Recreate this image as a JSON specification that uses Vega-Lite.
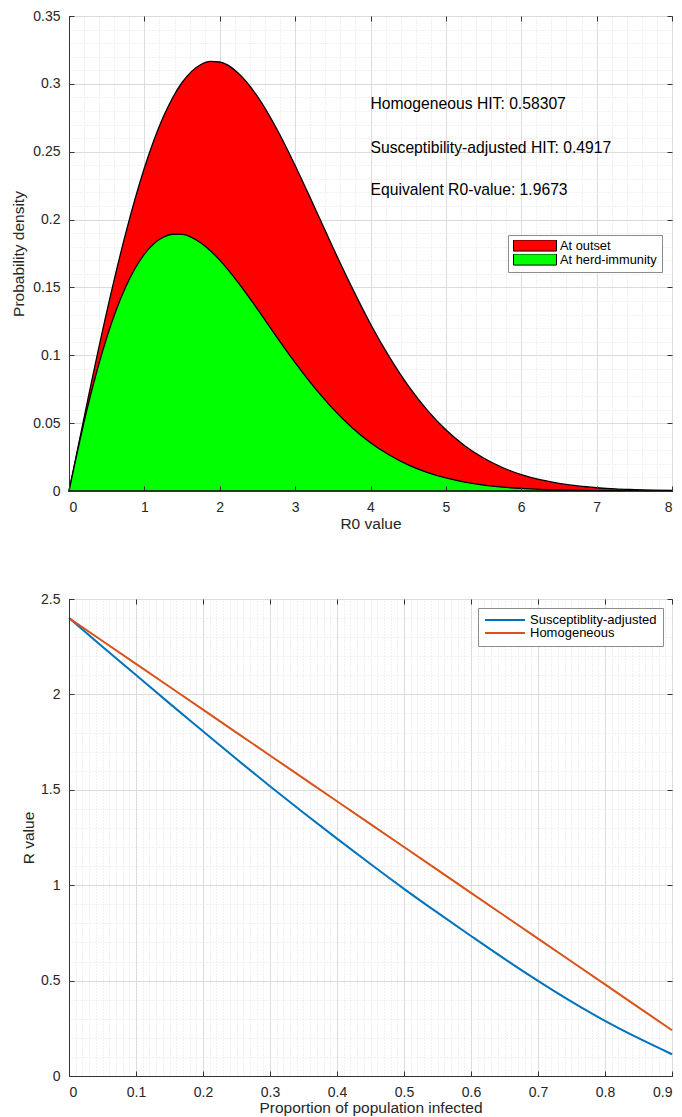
{
  "$schema": "https://vega.github.io/schema/vega-lite/v6.json",
  "background": "white",
  "padding": {"left": 11, "top": 8, "right": 0, "bottom": 0},
  "spacing": 59,
  "resolve": {"scale": {"color": "independent"}, "legend": {"color": "independent"}},
  "config": {
    "font": "Liberation Sans",
    "view": {"stroke": "#333333", "strokeWidth": 1},
    "axis": {
      "labelFont": "Liberation Sans", "titleFont": "Liberation Sans",
      "labelFontSize": 14, "titleFontSize": 15.5, "titleFontWeight": "normal",
      "labelColor": "#262626", "titleColor": "#262626",
      "domainColor": "#333333", "tickColor": "#333333", "gridColor": "#dcdcdc", "gridWidth": 1
    }
  },
  "vconcat": [
    {
      "width": 603, "height": 475,
      "data": {"values": [
        {"x": 0, "outset": 0, "herd": 0},
        {"x": 0.25, "outset": 0.0676, "herd": 0.0626},
        {"x": 0.5, "outset": 0.1318, "herd": 0.1129},
        {"x": 0.75, "outset": 0.1894, "herd": 0.1501},
        {"x": 1, "outset": 0.2380, "herd": 0.1745},
        {"x": 1.25, "outset": 0.2755, "herd": 0.1870},
        {"x": 1.375, "outset": 0.2898, "herd": 0.1892},
        {"x": 1.5, "outset": 0.3010, "herd": 0.1891},
        {"x": 1.75, "outset": 0.3143, "herd": 0.1827},
        {"x": 1.875, "outset": 0.3166, "herd": 0.1771},
        {"x": 2, "outset": 0.3161, "herd": 0.1701},
        {"x": 2.25, "outset": 0.3077, "herd": 0.1532},
        {"x": 2.5, "outset": 0.2908, "herd": 0.1340},
        {"x": 2.75, "outset": 0.2675, "herd": 0.1140},
        {"x": 3, "outset": 0.2399, "herd": 0.0946},
        {"x": 3.25, "outset": 0.2100, "herd": 0.0767},
        {"x": 3.5, "outset": 0.1796, "herd": 0.0607},
        {"x": 3.75, "outset": 0.1504, "herd": 0.0470},
        {"x": 4, "outset": 0.1231, "herd": 0.0356},
        {"x": 4.25, "outset": 0.0988, "herd": 0.0265},
        {"x": 4.5, "outset": 0.0776, "herd": 0.0192},
        {"x": 4.75, "outset": 0.0598, "herd": 0.0137},
        {"x": 5, "outset": 0.0451, "herd": 0.0096},
        {"x": 5.25, "outset": 0.0334, "herd": 0.0066},
        {"x": 5.5, "outset": 0.0243, "herd": 0.0044},
        {"x": 5.75, "outset": 0.0173, "herd": 0.0029},
        {"x": 6, "outset": 0.0121, "herd": 0.0019},
        {"x": 6.25, "outset": 0.0083, "herd": 0.0012},
        {"x": 6.5, "outset": 0.0056, "herd": 0.0008},
        {"x": 6.75, "outset": 0.0037, "herd": 0.0005},
        {"x": 7, "outset": 0.0024, "herd": 0.0003},
        {"x": 7.25, "outset": 0.0015, "herd": 0.0002},
        {"x": 7.5, "outset": 0.0010, "herd": 0.0001},
        {"x": 7.75, "outset": 0.0006, "herd": 0.0001},
        {"x": 8, "outset": 0.0004, "herd": 0.0000}
      ]},
      "resolve": {"axis": {"x": "independent", "y": "independent"}},
      "layer": [
        {
          "mark": {"type": "area", "interpolate": "monotone", "stroke": "black", "strokeWidth": 1.3, "opacity": 1},
          "encoding": {
            "x": {"field": "x", "type": "quantitative", "scale": {"domain": [0, 8], "nice": false},
              "axis": {"values": [0,1,2,3,4,5,6,7,8], "format": "d", "grid": false, "zindex": 1, "tickSize": -5, "labelPadding": 14, "title": "R0 value", "titlePadding": 2}},
            "y": {"field": "outset", "type": "quantitative", "scale": {"domain": [0, 0.35], "nice": false},
              "axis": {"values": [0,0.05,0.1,0.15,0.2,0.25,0.3,0.35], "format": ".2~f", "grid": false, "zindex": 1, "tickSize": -5, "labelPadding": 14, "title": "Probability density", "titlePadding": 6}},
            "color": {"datum": "At outset", "type": "nominal",
              "scale": {"domain": ["At outset", "At herd-immunity"], "range": ["#ff0000", "#00ff00"]},
              "legend": {"title": null, "orient": "none", "legendX": 439, "legendY": 219,
                "symbolType": "M-1,-0.26H1V0.26H-1Z", "symbolSize": 1849, "symbolStrokeColor": "black", "symbolStrokeWidth": 1, "symbolOpacity": 1,
                "clipHeight": 11,
                "labelFontSize": 12.8, "labelFont": "Liberation Sans", "labelColor": "#000000",
                "strokeColor": "#8c8c8c", "fillColor": "white", "padding": 5, "rowPadding": 0, "labelOffset": 3}}
          }
        },
        {
          "mark": {"type": "area", "interpolate": "monotone", "stroke": "black", "strokeWidth": 1.3, "opacity": 1},
          "encoding": {
            "x": {"field": "x", "type": "quantitative",
              "axis": {"orient": "top", "values": [0,1,2,3,4,5,6,7,8], "grid": true, "labels": false, "domain": false, "ticks": true, "tickSize": -5, "title": null, "zindex": 0}},
            "y": {"field": "herd", "type": "quantitative",
              "axis": {"orient": "right", "values": [0,0.05,0.1,0.15,0.2,0.25,0.3,0.35], "grid": true, "labels": false, "domain": false, "ticks": true, "tickSize": -5, "title": null, "zindex": 0}},
            "color": {"datum": "At herd-immunity", "type": "nominal"}
          }
        },
        {
          "data": {"values": [
            {"x": 4.0, "y": 0.285, "label": "Homogeneous HIT: 0.58307"},
            {"x": 4.0, "y": 0.253, "label": "Susceptibility-adjusted HIT: 0.4917"},
            {"x": 4.0, "y": 0.222, "label": "Equivalent R0-value: 1.9673"}
          ]},
          "mark": {"type": "text", "align": "left", "baseline": "middle", "fontSize": 15.7, "font": "Liberation Sans", "color": "#000000"},
          "encoding": {
            "x": {"field": "x", "type": "quantitative",
              "axis": {"orient": "top", "values": [0.2,0.4,0.6,0.8,1.2,1.4,1.6,1.8,2.2,2.4,2.6,2.8,3.2,3.4,3.6,3.8,4.2,4.4,4.6,4.8,5.2,5.4,5.6,5.8,6.2,6.4,6.6,6.8,7.2,7.4,7.6,7.8], "grid": true, "gridColor": "#e2e2e2", "gridDash": [1, 2], "labels": false, "domain": false, "ticks": false, "title": null, "zindex": 0}},
            "y": {"field": "y", "type": "quantitative",
              "axis": {"orient": "right", "values": [0.01,0.02,0.03,0.04,0.06,0.07,0.08,0.09,0.11,0.12,0.13,0.14,0.16,0.17,0.18,0.19,0.21,0.22,0.23,0.24,0.26,0.27,0.28,0.29,0.31,0.32,0.33,0.34], "grid": true, "gridColor": "#e2e2e2", "gridDash": [1, 2], "labels": false, "domain": false, "ticks": false, "title": null, "zindex": 0}},
            "text": {"field": "label"}
          }
        }
      ]
    },
    {
      "width": 603, "height": 477,
      "data": {"values": [
        {"p": 0, "adjusted": 2.400, "homogeneous": 2.40},
        {"p": 0.05, "adjusted": 2.250, "homogeneous": 2.28},
        {"p": 0.1, "adjusted": 2.102, "homogeneous": 2.16},
        {"p": 0.15, "adjusted": 1.953, "homogeneous": 2.04},
        {"p": 0.2, "adjusted": 1.807, "homogeneous": 1.92},
        {"p": 0.25, "adjusted": 1.661, "homogeneous": 1.80},
        {"p": 0.3, "adjusted": 1.519, "homogeneous": 1.68},
        {"p": 0.35, "adjusted": 1.380, "homogeneous": 1.56},
        {"p": 0.4, "adjusted": 1.244, "homogeneous": 1.44},
        {"p": 0.45, "adjusted": 1.111, "homogeneous": 1.32},
        {"p": 0.5, "adjusted": 0.981, "homogeneous": 1.20},
        {"p": 0.55, "adjusted": 0.856, "homogeneous": 1.08},
        {"p": 0.6, "adjusted": 0.734, "homogeneous": 0.96},
        {"p": 0.65, "adjusted": 0.614, "homogeneous": 0.84},
        {"p": 0.7, "adjusted": 0.499, "homogeneous": 0.72},
        {"p": 0.75, "adjusted": 0.390, "homogeneous": 0.60},
        {"p": 0.8, "adjusted": 0.289, "homogeneous": 0.48},
        {"p": 0.85, "adjusted": 0.198, "homogeneous": 0.36},
        {"p": 0.9, "adjusted": 0.114, "homogeneous": 0.24}
      ]},
      "resolve": {"axis": {"x": "independent", "y": "independent"}},
      "layer": [
        {
          "mark": {"type": "line", "interpolate": "monotone", "strokeWidth": 2},
          "encoding": {
            "x": {"field": "p", "type": "quantitative", "scale": {"domain": [0, 0.9], "nice": false},
              "axis": {"values": [0,0.1,0.2,0.3,0.4,0.5,0.6,0.7,0.8,0.9], "format": ".1~f", "grid": false, "zindex": 1, "tickSize": -5, "labelPadding": 14, "title": "Proportion of population infected", "titlePadding": 1}},
            "y": {"field": "adjusted", "type": "quantitative", "scale": {"domain": [0, 2.5], "nice": false},
              "axis": {"values": [0,0.5,1,1.5,2,2.5], "format": ".1~f", "grid": false, "zindex": 1, "tickSize": -5, "labelPadding": 14, "title": "R value", "titlePadding": 4}},
            "color": {"datum": "Susceptiblity-adjusted", "type": "nominal",
              "scale": {"domain": ["Susceptiblity-adjusted", "Homogeneous"], "range": ["#0072BD", "#D95319"]},
              "legend": {"title": null, "orient": "none", "legendX": 409, "legendY": 9,
                "symbolType": "stroke", "symbolSize": 1600, "symbolStrokeWidth": 2, "clipHeight": 12,
                "labelFontSize": 13, "labelFont": "Liberation Sans", "labelColor": "#000000",
                "strokeColor": "#8c8c8c", "fillColor": "white", "padding": 6, "rowPadding": 0, "labelOffset": 4}}
          }
        },
        {
          "mark": {"type": "line", "interpolate": "linear", "strokeWidth": 2},
          "encoding": {
            "x": {"field": "p", "type": "quantitative",
              "axis": {"orient": "top", "values": [0,0.1,0.2,0.3,0.4,0.5,0.6,0.7,0.8,0.9], "grid": true, "labels": false, "domain": false, "ticks": true, "tickSize": -5, "title": null, "zindex": 0}},
            "y": {"field": "homogeneous", "type": "quantitative",
              "axis": {"orient": "right", "values": [0,0.5,1,1.5,2,2.5], "grid": true, "labels": false, "domain": false, "ticks": true, "tickSize": -5, "title": null, "zindex": 0}},
            "color": {"datum": "Homogeneous", "type": "nominal"}
          }
        },
        {
          "mark": {"type": "line", "interpolate": "linear", "strokeWidth": 2, "opacity": 0},
          "encoding": {
            "x": {"field": "p", "type": "quantitative",
              "axis": {"orient": "top", "values": [0.01,0.02,0.03,0.04,0.05,0.06,0.07,0.08,0.09,0.11,0.12,0.13,0.14,0.15,0.16,0.17,0.18,0.19,0.21,0.22,0.23,0.24,0.25,0.26,0.27,0.28,0.29,0.31,0.32,0.33,0.34,0.35,0.36,0.37,0.38,0.39,0.41,0.42,0.43,0.44,0.45,0.46,0.47,0.48,0.49,0.51,0.52,0.53,0.54,0.55,0.56,0.57,0.58,0.59,0.61,0.62,0.63,0.64,0.65,0.66,0.67,0.68,0.69,0.71,0.72,0.73,0.74,0.75,0.76,0.77,0.78,0.79,0.81,0.82,0.83,0.84,0.85,0.86,0.87,0.88,0.89], "grid": true, "gridColor": "#e2e2e2", "gridDash": [1, 2], "labels": false, "domain": false, "ticks": false, "title": null, "zindex": 0}},
            "y": {"field": "homogeneous", "type": "quantitative",
              "axis": {"orient": "right", "values": [0.1,0.2,0.3,0.4,0.6,0.7,0.8,0.9,1.1,1.2,1.3,1.4,1.6,1.7,1.8,1.9,2.1,2.2,2.3,2.4], "grid": true, "gridColor": "#e2e2e2", "gridDash": [1, 2], "labels": false, "domain": false, "ticks": false, "title": null, "zindex": 0}}
          }
        }
      ]
    }
  ]
}
